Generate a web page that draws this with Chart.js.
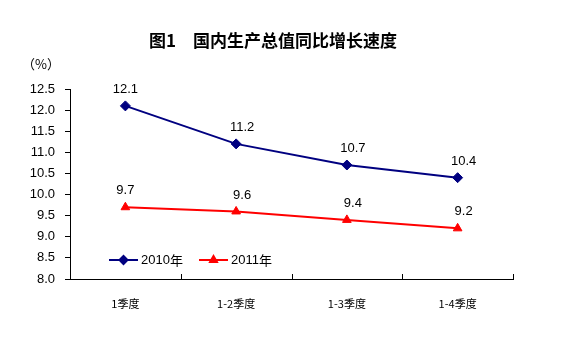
<!DOCTYPE html>
<html>
<head>
<meta charset="utf-8">
<script src="https://cdn.jsdelivr.net/npm/chart.js@4.4.0/dist/chart.umd.min.js"></script>
<style>
  html, body { margin: 0; padding: 0; background: #fff; }
  #wrap { width: 562px; height: 345px; position: relative; }
</style>
</head>
<body>
<div id="wrap"><canvas id="gdpChart" width="562" height="345"></canvas></div>
<script>
// chart data
const categories = ['1季度', '1-2季度', '1-3季度', '1-4季度'];
const values2010 = [12.1, 11.2, 10.7, 10.4];
const values2011 = [9.7, 9.6, 9.4, 9.2];
const seriesNames = ['2010年', '2011年'];
const yMin = 8.0, yMax = 12.5, yStep = 0.5;

const titleText = '图1　国内生产总值同比增长速度';
const unitText = '（%）';

const numFont = '"Liberation Sans", Arial, sans-serif';
const cjkFont = '"Noto Sans CJK SC", sans-serif';

// draws title, unit, value labels, legend and inward x ticks
const extras = {
    id: 'extras',
    afterDraw(chart) {
        const ctx = chart.ctx;
        const area = chart.chartArea;
        const xScale = chart.scales.x;
        ctx.save();

        // title
        ctx.fillStyle = '#000';
        ctx.font = 'bold 17px ' + cjkFont;
        ctx.textAlign = 'center';
        ctx.textBaseline = 'middle';
        ctx.fillText(titleText, 273, 41);

        // unit
        ctx.font = '13px ' + cjkFont;
        ctx.textAlign = 'left';
        ctx.fillText(unitText, 22, 64);

        // x ticks pointing up at category edges
        ctx.strokeStyle = '#000';
        ctx.lineWidth = 1;
        for (let i = 1; i <= categories.length; i++) {
            const px = Math.round(xScale.getPixelForValue(i - 0.5)) + 0.5;
            ctx.beginPath();
            ctx.moveTo(px, area.bottom);
            ctx.lineTo(px, area.bottom - 5);
            ctx.stroke();
        }

        // value labels
        ctx.font = '13px ' + numFont;
        ctx.textAlign = 'center';
        ctx.textBaseline = 'bottom';
        chart.data.datasets.forEach((ds, di) => {
            const meta = chart.getDatasetMeta(di);
            meta.data.forEach((pt, i) => {
                const dx = i === 0 ? 0 : 6;
                ctx.fillText(ds.data[i].toFixed(1), pt.x + dx, pt.y - 10);
            });
        });

        // legend
        ctx.textAlign = 'left';
        ctx.textBaseline = 'middle';
        let lx = 109;
        const ly = 260;
        chart.data.datasets.forEach((ds) => {
            ctx.strokeStyle = ds.borderColor;
            ctx.lineWidth = 2;
            ctx.beginPath();
            ctx.moveTo(lx, ly);
            ctx.lineTo(lx + 29, ly);
            ctx.stroke();
            Chart.helpers.drawPoint(ctx, {
                pointStyle: ds.pointStyle,
                radius: 4,
                borderWidth: 1
            }, lx + 14.5, ly);
            ctx.fillStyle = ds.borderColor;
            ctx.fill();
            const num = ds.label.replace('年', '');
            ctx.fillStyle = '#000';
            ctx.font = '13px ' + numFont;
            ctx.fillText(num, lx + 32, ly);
            const w = ctx.measureText(num).width;
            ctx.font = '13px ' + cjkFont;
            ctx.fillText('年', lx + 32 + w, ly);
            lx += 90;
        });

        ctx.restore();
    }
};

const ctx = document.getElementById('gdpChart').getContext('2d');
const chart = new Chart(ctx, {
    type: 'line',
    data: {
        labels: categories,
        datasets: [
            {
                label: seriesNames[0],
                data: values2010,
                borderColor: '#000080',
                backgroundColor: '#000080',
                borderWidth: 2,
                pointStyle: 'rectRot',
                pointRadius: 5,
                pointBorderWidth: 1,
                tension: 0
            },
            {
                label: seriesNames[1],
                data: values2011,
                borderColor: '#ff0000',
                backgroundColor: '#ff0000',
                borderWidth: 2,
                pointStyle: 'triangle',
                pointRadius: 5,
                pointBorderWidth: 1,
                tension: 0
            }
        ]
    },
    options: {
        responsive: false,
        animation: false,
        devicePixelRatio: 1,
        layout: { padding: { top: 89, right: 49, left: 0, bottom: 0 } },
        plugins: {
            legend: { display: false },
            title: { display: false },
            tooltip: { enabled: false }
        },
        scales: {
            x: {
                offset: true,
                grid: { display: false, drawOnChartArea: false },
                border: { display: true, color: '#000', width: 1 },
                ticks: {
                    color: '#000',
                    font: { family: cjkFont, size: 11 },
                    padding: 10
                },
                afterFit(scale) { scale.height = 66; }
            },
            y: {
                min: yMin,
                max: yMax,
                ticks: {
                    stepSize: yStep,
                    color: '#000',
                    font: { family: numFont, size: 13 },
                    padding: 10,
                    callback: (v) => v.toFixed(1)
                },
                grid: {
                    drawOnChartArea: false,
                    tickLength: 5,
                    color: '#000'
                },
                border: { display: true, color: '#000', width: 1 },
                afterFit(scale) { scale.width = 70; }
            }
        }
    },
    plugins: [extras]
});
</script>
</body>
</html>
